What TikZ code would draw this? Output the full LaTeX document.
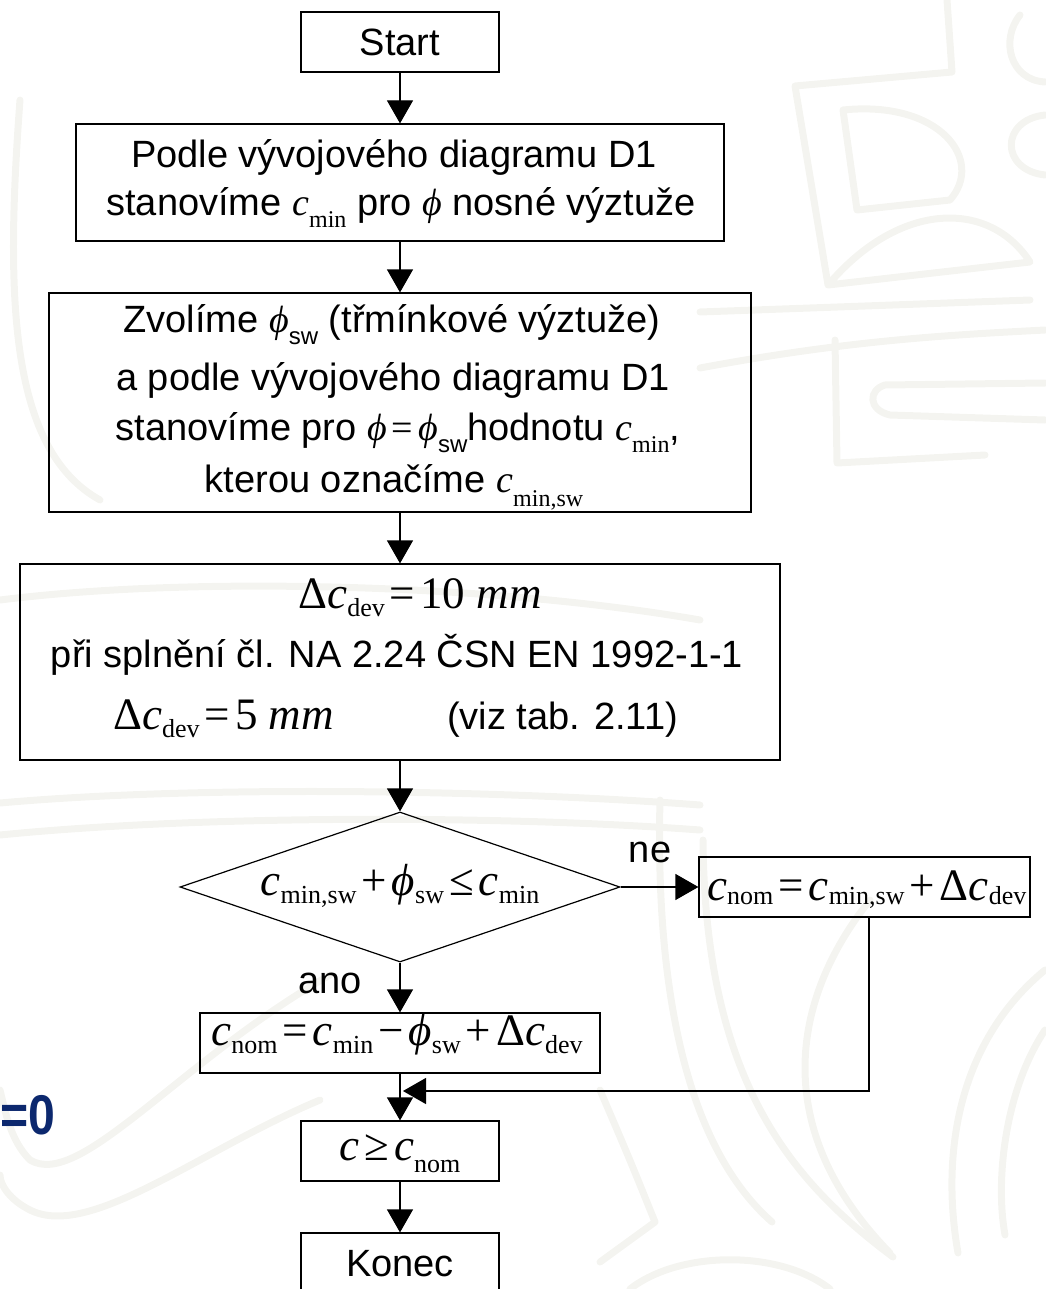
\documentclass[tikz,border=0pt]{standalone}
\usepackage{fontspec}
\setmainfont{Liberation Sans}
\newfontfamily\tms{Liberation Serif}
\usetikzlibrary{arrows.meta,shapes.geometric}
\definecolor{navy}{RGB}{12,40,110}
\definecolor{wmgray}{RGB}{244,244,240}
\newcommand\ci{{\tms\itshape c}}
\newcommand\ph{{\tms\itshape ϕ}}
\newcommand\sbx[2]{\raisebox{-#1}{\fontsize{24}{24}\selectfont\tms #2}}
\newcommand\sbm[2]{\raisebox{-#1}{\fontsize{26}{26}\selectfont\tms #2}}
\newcommand\sbsans[2]{\raisebox{-#1}{\fontsize{24}{24}\selectfont #2}}
\newcommand\op[1]{\hspace{5pt}{#1}\hspace{5pt}}
\begin{document}
\begin{tikzpicture}[x=1pt,y=-1pt,
  box/.style={draw,line width=1.2pt,inner sep=0pt},
  txt/.style={font=\fontsize{38}{46}\selectfont, anchor=base, inner sep=0pt},
  mth/.style={font=\fontsize{45}{52}\selectfont\tms, anchor=base, inner sep=0pt},
  arr/.style={-{Triangle[length=23pt,width=26pt]}, line width=1.2pt},
  wm/.style={draw=wmgray, line width=7pt, line cap=round, line join=round}
]
\useasboundingbox (0,0) rectangle (1045,1289);
% faint background watermark
\begin{scope}[wm]
\draw (947,0) -- (952,72) -- (795,86) -- (828,285) -- (1030,262) .. controls (990,200) and (900,200) .. (828,285);
\draw (843,110) -- (857,210) -- (950,200) .. controls (985,160) and (940,100) .. (843,110);
\draw (1020,15) .. controls (1000,40) and (1010,80) .. (1045,82);
\draw (1045,115) .. controls (1000,120) and (1000,170) .. (1045,175);
\draw (700,312) -- (1030,300);
\draw (700,368) .. controls (850,340) and (950,335) .. (1045,330);
\draw (835,340) -- (837,463) -- (985,455);
\draw (1045,383) -- (885,385) .. controls (868,390) and (868,410) .. (890,415) -- (1045,420);
\draw (20,100) .. controls (5,300) and (10,450) .. (100,500);
\draw (0,600) .. controls (200,575) and (500,585) .. (700,620);
\draw (0,803) .. controls (200,785) and (500,790) .. (700,805);
\draw (0,835) .. controls (200,815) and (500,815) .. (700,830);
\draw (330,975) .. controls (180,1060) and (80,1190) .. (30,1160) .. controls (10,1140) and (5,1110) .. (0,1090);
\draw (320,1100) .. controls (200,1150) and (90,1240) .. (30,1210) .. controls (10,1200) and (0,1185) .. (0,1175);
\draw (660,800) .. controls (655,1000) and (690,1150) .. (772,1222);
\draw (703,840) .. controls (705,1080) and (790,1180) .. (893,1257);
\draw (870,900) .. controls (790,1000) and (770,1130) .. (890,1253);
\draw (1045,970) .. controls (960,1040) and (940,1150) .. (958,1253);
\draw (1045,1030) .. controls (1005,1090) and (995,1180) .. (1005,1235);
\draw (600,1090) .. controls (630,1160) .. (655,1222) -- (600,1262);
\draw (630,1289) .. controls (680,1250) and (780,1250) .. (830,1289);
\end{scope}
% boxes
\node[box, minimum width=198pt, minimum height=60pt] (start) at (400,42) {};
\node[box, minimum width=648pt, minimum height=117pt] (b2) at (400,182.5) {};
\node[box, minimum width=702pt, minimum height=219pt] (b3) at (400,402.5) {};
\node[box, minimum width=760pt, minimum height=196pt] (b4) at (400,662) {};
\node[draw, line width=1.2pt, diamond, inner sep=0pt, minimum width=440pt, minimum height=150pt] (d) at (400,887) {};
\node[box, minimum width=331pt, minimum height=60pt] (b5) at (864.5,887) {};
\node[box, minimum width=400pt, minimum height=60pt] (b6) at (400,1043) {};
\node[box, minimum width=198pt, minimum height=60pt] (b7) at (400,1151) {};
\node[box, minimum width=198pt, minimum height=60pt] (b8) at (400,1263) {};
% texts
\node[txt] (t1) at (400,56) {Start};
\node[txt] (t2a) at (394,168) {Podle vývojového diagramu D1};
\node[txt] (t2b) at (401,216) {stanovíme \ci\sbx{12pt}{min} pro \ph\ nosné výztuže};
\node[txt] (t3a) at (392,332) {Zvolíme \ph\sbsans{12pt}{sw} (třmínkové výztuže)};
\node[txt] (t3b) at (393,390) {a podle vývojového diagramu D1};
\node[txt] (t3c) at (398,440) {stanovíme pro \ph\op{\tms =}\ph\sbsans{12pt}{sw}hodnotu \ci\sbx{12pt}{min},};
\node[txt] (t3d) at (394,492) {kterou označíme \ci\sbx{14pt}{min,sw}};
\node[mth] (t4a) at (420,608) {Δ\ci\sbm{8pt}{dev}\op{=}10\ {\itshape mm}};
\node[txt] (t4b) at (397,667) {při splnění čl. NA 2.24 ČSN EN 1992-1-1};
\node[mth, anchor=base west] (t4c) at (113,729) {Δ\ci\sbm{8pt}{dev}\op{=}5\ {\itshape mm}};
\node[txt, anchor=base west] (t4d) at (447,729) {(viz tab. 2.11)};
\node[mth] (td) at (400,895) {\ci\sbm{8pt}{min,sw}\op{+}\ph\sbm{8pt}{sw}\op{≤}\ci\sbm{8pt}{min}};
\node[mth, anchor=base west] (t5) at (707,900) {\ci\sbm{4pt}{nom}\op{=}\ci\sbm{4pt}{min,sw}\op{+}Δ\ci\sbm{4pt}{dev}};
\node[mth] (t6) at (397,1045) {\ci\sbm{8pt}{nom}\op{=}\ci\sbm{8pt}{min}\op{−}\ph\sbm{8pt}{sw}\op{+}Δ\ci\sbm{8pt}{dev}};
\node[mth] (t7) at (400,1160) {\ci\op{≥}\ci\sbm{12pt}{nom}};
\node[txt] (t8) at (400,1276) {Konec};
\node[txt] (ne) at (650,862) {ne};
\node[txt] (ano) at (330,993) {ano};
\node[font=\fontsize{56}{60}\selectfont\bfseries, text=navy, anchor=base west, inner sep=0pt] (eq0) at (0,1134) {\scalebox{0.86}[1]{=0}};
% connectors
\coordinate (j) at (403,1091);
\draw[arr] (start) -- (b2);
\draw[arr] (b2) -- (b3);
\draw[arr] (b3) -- (b4);
\draw[arr] (b4) -- (d.north);
\draw[arr] (d.east) -- (b5.west);
\draw[arr] (d.south) -- (b6.north);
\draw[arr] (b6) -- (b7);
\draw[arr] ([xshift=4.5pt]b5.south) |- (j);
\draw[arr] (b7) -- (b8);
\end{tikzpicture}
\end{document}
